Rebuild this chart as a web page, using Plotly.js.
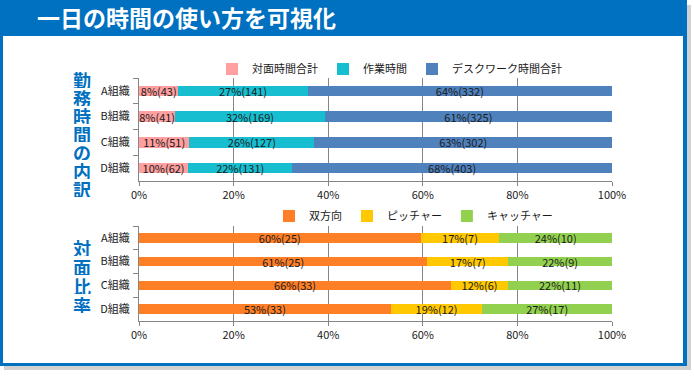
<!DOCTYPE html>
<html>
<head>
<meta charset="utf-8">
<script src="https://cdn.plot.ly/plotly-3.0.1.min.js"></script>
<style>html,body{margin:0;padding:0;background:#fff;}#chart{width:694px;height:376px;}</style>
</head>
<body>
<div id="chart"></div>
<script>
// ---- data ----
const orgs = ['A組織', 'B組織', 'C組織', 'D組織'];
const workSeries = ['対面時間合計', '作業時間', 'デスクワーク時間合計'];
const faceTime = [43, 41, 51, 62];
const taskTime = [141, 169, 127, 131];
const deskTime = [332, 325, 302, 403];
const facePct = [8, 8, 11, 10];
const taskPct = [27, 32, 26, 22];
const deskPct = [64, 61, 63, 68];
const ratioSeries = ['双方向', 'ピッチャー', 'キャッチャー'];
const twoWay = [25, 25, 33, 33];
const pitcher = [7, 7, 6, 12];
const catcher = [10, 9, 11, 17];
const twoWayPct = [60, 61, 66, 53];
const pitcherPct = [17, 17, 12, 19];
const catcherPct = [24, 22, 22, 27];
const xTickVals = [0, 20, 40, 60, 80, 100];
const xTickText = ['0%', '20%', '40%', '60%', '80%', '100%'];
const chartTitle = '一日の時間の使い方を可視化';
const sideTitle1 = '勤務時間の内訳';
const sideTitle2 = '対面比率';

// ---- layout helpers ----
const W = 694, H = 376;
const px = x => x / W;
const py = y => 1 - y / H;
const FONT = '"Noto Sans CJK JP", "Noto Sans", sans-serif';
const BLUE = '#0070C0';
const GRID = '#868686';

function labels(pct, cnt) { return pct.map((p, i) => p + '%(' + cnt[i] + ')'); }

function barTrace(name, vals, pct, color, xa, ya, lg) {
  return {
    type: 'bar', orientation: 'h', name: name,
    y: orgs, x: vals, xaxis: xa, yaxis: ya, legend: lg,
    marker: { color: color, line: { width: 0 } },
    text: labels(pct, vals), textposition: 'inside', insidetextanchor: 'middle',
    textangle: 0, constraintext: 'none',
    textfont: { family: FONT, size: 11, color: '#1a1a1a' },
    hoverinfo: 'skip'
  };
}

const data = [
  barTrace(workSeries[0], faceTime, facePct, '#FF9F9F', 'x', 'y', 'legend'),
  barTrace(workSeries[1], taskTime, taskPct, '#17BECF', 'x', 'y', 'legend'),
  barTrace(workSeries[2], deskTime, deskPct, '#4F81BD', 'x', 'y', 'legend'),
  barTrace(ratioSeries[0], twoWay, twoWayPct, '#FF7F27', 'x2', 'y2', 'legend2'),
  barTrace(ratioSeries[1], pitcher, pitcherPct, '#FFC800', 'x2', 'y2', 'legend2'),
  barTrace(ratioSeries[2], catcher, catcherPct, '#92D050', 'x2', 'y2', 'legend2')
];

function xAxis(anchor) {
  return {
    domain: [px(139), px(612)], anchor: anchor, range: [0, 100],
    tickvals: xTickVals, ticktext: xTickText, showgrid: true, gridcolor: GRID, gridwidth: 1,
    showline: true, linecolor: GRID, linewidth: 1, ticks: 'outside', ticklen: 4, tickcolor: GRID,
    zeroline: false, fixedrange: true, automargin: false,
    tickfont: { family: FONT, size: 11, color: '#1a1a1a' }
  };
}
function yAxis(anchor, top, bottom) {
  return {
    domain: [py(bottom), py(top)], anchor: anchor, type: 'category', autorange: 'reversed',
    showline: true, linecolor: GRID, linewidth: 1, ticks: 'outside', tickson: 'boundaries',
    ticklen: 5, tickcolor: GRID, showgrid: false, zeroline: false, fixedrange: true, automargin: false,
    ticklabelstandoff: 6,
    tickfont: { family: FONT, size: 11, color: '#1a1a1a' }
  };
}

const annotations = [];
function vertical(str, cx, cy0, step) {
  Array.from(str).forEach((ch, i) => {
    annotations.push({
      xref: 'paper', yref: 'paper', x: px(cx), y: py(cy0 + i * step),
      xanchor: 'center', yanchor: 'middle', showarrow: false, text: '<b>' + ch + '</b>',
      height: 17, width: 20, valign: 'middle',
      font: { family: FONT, size: 18, color: BLUE }
    });
  });
}
vertical(sideTitle1, 82, 79, 18.2);
vertical(sideTitle2, 82, 248, 18.7);

const shapes = [
  { type: 'rect', xref: 'paper', yref: 'paper', x0: px(4), x1: px(691), y0: py(370), y1: py(5),
    fillcolor: 'rgba(140,140,140,0.4)', line: { width: 0 }, layer: 'below' },
  { type: 'rect', xref: 'paper', yref: 'paper', x0: px(0), x1: px(687), y0: py(366), y1: py(0),
    fillcolor: BLUE, line: { width: 0 }, layer: 'below' },
  { type: 'rect', xref: 'paper', yref: 'paper', x0: px(3), x1: px(683), y0: py(363), y1: py(36),
    fillcolor: '#ffffff', line: { width: 0 }, layer: 'below' }
];

const layout = {
  width: W, height: H, margin: { l: 0, r: 0, t: 0, b: 0 },
  paper_bgcolor: '#ffffff', plot_bgcolor: 'rgba(0,0,0,0)',
  font: { family: FONT, size: 11, color: '#1a1a1a' },
  title: { text: chartTitle, xref: 'paper', yref: 'paper', x: px(37), xanchor: 'left',
    y: py(19), yanchor: 'middle', font: { family: FONT, size: 23, color: '#ffffff', weight: 'bold' } },
  barmode: 'stack', barnorm: 'percent', bargap: 0.6,
  xaxis: xAxis('y'), yaxis: yAxis('x', 78, 181),
  xaxis2: xAxis('y2'), yaxis2: yAxis('x2', 226, 321),
  showlegend: true,
  legend: { orientation: 'h', x: px(212), xanchor: 'left', y: py(69), yanchor: 'middle',
    bgcolor: 'rgba(0,0,0,0)', font: { family: FONT, size: 11, color: '#1a1a1a' }, traceorder: 'normal' },
  legend2: { orientation: 'h', x: px(269), xanchor: 'left', y: py(216), yanchor: 'middle',
    bgcolor: 'rgba(0,0,0,0)', font: { family: FONT, size: 11, color: '#1a1a1a' }, traceorder: 'normal' },
  annotations: annotations, shapes: shapes, hovermode: false
};

Plotly.newPlot('chart', data, layout, { displayModeBar: false, staticPlot: true });
</script>
</body>
</html>
